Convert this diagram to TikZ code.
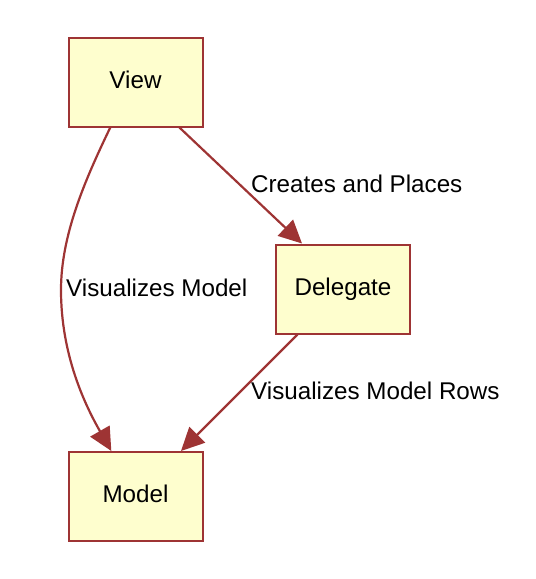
\documentclass[tikz,border=0pt]{standalone}
\usepackage{fontspec}
\setmainfont{Liberation Sans}
\usetikzlibrary{arrows.meta}
\definecolor{edgecol}{RGB}{158,52,52}
\definecolor{boxfill}{RGB}{254,254,206}
\begin{document}
\begin{tikzpicture}[x=1pt,y=-1pt,
  box/.style={draw=edgecol, fill=boxfill, line width=2pt, rectangle,
    minimum width=134pt, minimum height=89pt, inner sep=0pt,
    text height=17.5pt, text depth=5pt, font=\fontsize{24.2}{28}\selectfont},
  conn/.style={draw=edgecol, line width=2.2pt,
    -{Triangle[length=23pt,width=22pt]}},
  lbl/.style={anchor=base west, inner sep=0pt, font=\fontsize{24.2}{28}\selectfont}]
\useasboundingbox (0,0) rectangle (536,579);
\node[box] (view) at (135.5,82) {View};
\node[box] (delegate) at (343,289) {Delegate};
\node[box] (model) at (135.5,496.5) {Model};
\draw[conn] (view.-46.6) -- (delegate.132.3);
\draw[conn] (delegate.225.6) -- (model.45);
\draw[conn] (view.241.4) .. controls (85,180) and (61,235) .. (61,290)
  .. controls (61,355) and (85,405) .. (model.118.8);
\node[lbl] (l1) at (251,192) {Creates and Places};
\node[lbl] (l2) at (66,296) {Visualizes Model};
\node[lbl] (l3) at (251,399) {Visualizes Model Rows};
\end{tikzpicture}
\end{document}
